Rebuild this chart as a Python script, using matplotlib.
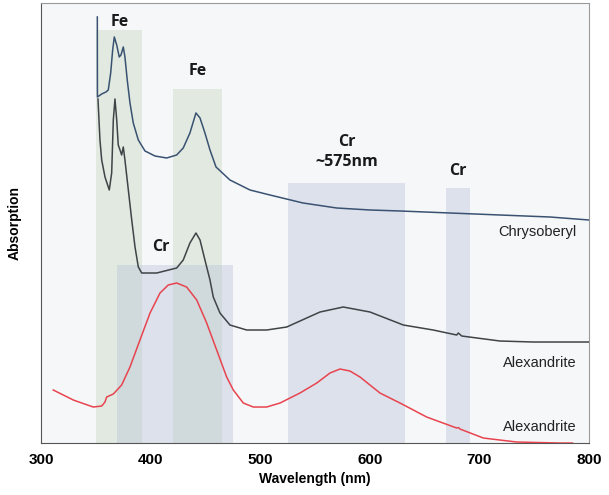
import matplotlib
matplotlib.use("Agg")
import matplotlib.pyplot as plt

# spectra (wavelength in nm, absorption in arbitrary units)
chry_wl = [351.4, 351.5, 355.4, 359.3, 361.4, 363.6, 365.4, 366.9, 369.1, 371.4,
           373.0, 375.1, 376.6, 378.7, 381.2, 384.2, 388.8, 394.9, 404.0, 414.7,
           423.8, 429.8, 435.9, 441.4, 445.1, 449.6, 454.2, 459.7, 472.4, 490.7,
           508.9, 539.1, 569.8, 600.2, 627.6, 673.2, 718.8, 764.4, 800.0]
chry_abs = [4.26, 3.46, 3.49, 3.51, 3.53, 3.70, 3.93, 4.06, 3.98, 3.86,
            3.88, 3.96, 3.86, 3.63, 3.40, 3.20, 3.03, 2.92, 2.87, 2.85,
            2.88, 2.95, 3.10, 3.30, 3.25, 3.10, 2.93, 2.76, 2.63, 2.53,
            2.48, 2.40, 2.35, 2.33, 2.32, 2.30, 2.28, 2.26, 2.23]

alex_wl = [352.0, 353.8, 355.4, 358.4, 362.3, 364.5, 366.0, 367.5, 369.1, 370.5,
           372.1, 373.6, 375.1, 376.6, 379.7, 382.8, 385.8, 388.8, 391.9, 405.6,
           423.8, 429.8, 435.9, 441.4, 445.1, 449.6, 454.2, 457.2, 463.3, 472.4,
           487.7, 505.9, 524.2, 542.4, 554.6, 575.8, 600.2, 630.6, 657.9, 679.3,
           680.8, 683.9, 718.8, 749.2, 800.0]
alex_abs = [3.44, 3.03, 2.83, 2.66, 2.53, 2.70, 3.23, 3.44, 3.23, 2.98,
            2.93, 2.88, 2.96, 2.83, 2.53, 2.23, 1.96, 1.76, 1.70, 1.70,
            1.75, 1.83, 2.00, 2.10, 2.03, 1.83, 1.63, 1.46, 1.30, 1.18,
            1.13, 1.13, 1.16, 1.25, 1.31, 1.36, 1.31, 1.18, 1.13, 1.08,
            1.10, 1.07, 1.02, 1.01, 1.01]

red_wl = [311.2, 329.5, 347.7, 355.4, 358.4, 359.9, 366.0, 373.6, 381.2, 390.3,
          399.5, 408.6, 416.1, 423.8, 432.9, 442.1, 451.2, 460.3, 469.4, 475.5,
          484.6, 493.7, 505.9, 518.1, 536.3, 551.6, 563.7, 572.8, 581.9, 591.1,
          600.2, 609.3, 627.6, 651.9, 679.3, 680.9, 682.3, 703.6, 734.0, 773.6,
          785.0]
red_abs = [0.53, 0.43, 0.36, 0.37, 0.41, 0.46, 0.49, 0.58, 0.76, 1.03,
           1.30, 1.50, 1.58, 1.60, 1.56, 1.43, 1.20, 0.93, 0.66, 0.53,
           0.40, 0.36, 0.36, 0.40, 0.50, 0.60, 0.70, 0.74, 0.72, 0.66,
           0.58, 0.50, 0.40, 0.26, 0.15, 0.155, 0.14, 0.05, 0.01, 0.0,
           0.0]

# absorption bands: (start, end, top)
fe_bands = [(350.2, 392.6, 4.13), (420.0, 465.0, 3.54)]
cr_bands = [(369.0, 475.0, 1.78), (525.5, 632.0, 2.60), (670.0, 691.0, 2.55)]

band_labels = [("Fe", 372.1, 4.21), ("Fe", 443.2, 3.72), ("Cr", 409.5, 1.96),
               ("Cr\n~575nm", 579.2, 2.91), ("Cr", 680.5, 2.72)]
curve_labels = [("Chrysoberyl", 2.11), ("Alexandrite", 0.80), ("Alexandrite", 0.16)]

fig = plt.figure(figsize=(6.09, 4.95), dpi=100)
ax = fig.add_axes([0.0673, 0.105, 0.8998, 0.889])
ax.set_facecolor("#f6f7f8")

for x0, x1, top in fe_bands:
    ax.fill_between([x0, x1], 0, top, color="#c9d9c3", alpha=0.45, lw=0, zorder=1)
for x0, x1, top in cr_bands:
    ax.fill_between([x0, x1], 0, top, color="#b8c2d8", alpha=0.40, lw=0, zorder=1)

ax.plot(chry_wl, chry_abs, color="#3a5272", lw=1.1, zorder=3)
ax.plot(alex_wl, alex_abs, color="#3f4447", lw=1.1, zorder=3)
ax.plot(red_wl, red_abs, color="#e8444f", lw=1.1, zorder=3)

for txt, x, y in band_labels:
    ax.text(x, y, txt, ha="center", va="center", fontsize=11.5, fontweight="bold",
            family="Open Sans", color="#1a1a1a", linespacing=1.3, zorder=4)
for txt, y in curve_labels:
    ax.text(789, y, txt, ha="right", va="center", fontsize=10.5,
            family="Liberation Sans", color="#222222", zorder=4)

ax.set_xlim(300, 800)
ax.set_ylim(0, 4.4)
ax.set_xticks([300, 400, 500, 600, 700, 800])
ax.set_yticks([])
ax.tick_params(axis="x", length=0, pad=7)
for lab in ax.get_xticklabels():
    lab.set_fontweight("bold")
    lab.set_fontsize(11)
    lab.set_family("Liberation Sans")
ax.set_xlabel("Wavelength (nm)", fontsize=10, fontweight="bold",
              family="Liberation Sans", labelpad=4)
ax.set_ylabel("Absorption", fontsize=10, fontweight="bold",
              family="Liberation Sans", labelpad=14)
for side in ["top", "right"]:
    ax.spines[side].set_color("#9a9a9a")
for side in ["left", "bottom"]:
    ax.spines[side].set_color("#555555")

fig.savefig("out.png", dpi=100)
